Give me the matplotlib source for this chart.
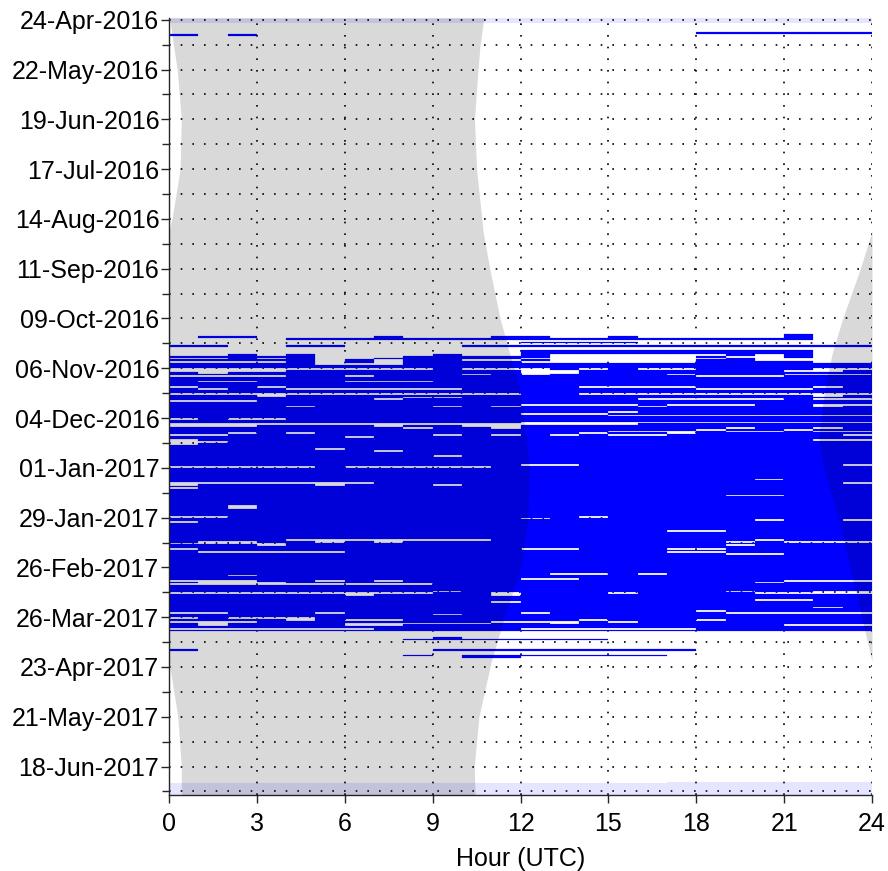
import numpy as np
import pandas as pd
import matplotlib
matplotlib.use('Agg')
import matplotlib.pyplot as plt
import matplotlib.dates as mdates
from matplotlib.colors import ListedColormap

plt.rcParams['font.family'] = ['Liberation Sans', 'DejaVu Sans']

# time axis range
date_first = '2016-04-23'
date_last = '2017-07-04'

# period with (nearly) continuous hourly files, inclusive
block_start = '2016-11-05'
block_end = '2017-04-02'

# missing hours inside the continuous period: (day, first hour, end hour)
gaps = [
    ('2016-11-06', 0, 9), ('2016-11-06', 10, 13), ('2016-11-06', 14, 15), ('2016-11-06', 16, 18), ('2016-11-06', 22, 24),
    ('2016-11-07', 0, 4), ('2016-11-07', 12, 14), ('2016-11-07', 21, 23),
    ('2016-11-08', 1, 2), ('2016-11-08', 12, 14),
    ('2016-11-09', 10, 11), ('2016-11-09', 12, 13), ('2016-11-09', 17, 18), ('2016-11-09', 21, 24),
    ('2016-11-10', 0, 4), ('2016-11-10', 6, 7), ('2016-11-10', 18, 21),
    ('2016-11-13', 1, 3), ('2016-11-13', 6, 9),
    ('2016-11-16', 0, 1), ('2016-11-16', 3, 4), ('2016-11-16', 14, 18), ('2016-11-16', 22, 23),
    ('2016-11-17', 1, 2), ('2016-11-17', 4, 10), ('2016-11-17', 18, 22),
    ('2016-11-20', 0, 12), ('2016-11-20', 14, 24),
    ('2016-11-21', 3, 4), ('2016-11-21', 22, 23),
    ('2016-11-22', 8, 10),
    ('2016-11-23', 7, 8), ('2016-11-23', 16, 21), ('2016-11-23', 22, 24),
    ('2016-11-24', 0, 3),
    ('2016-11-26', 12, 16), ('2016-11-26', 17, 20), ('2016-11-26', 22, 24),
    ('2016-11-27', 4, 5), ('2016-11-27', 9, 10), ('2016-11-27', 11, 12), ('2016-11-27', 16, 17), ('2016-11-27', 22, 23),
    ('2016-11-30', 15, 16),
    ('2016-12-01', 12, 15),
    ('2016-12-02', 15, 24),
    ('2016-12-04', 0, 1), ('2016-12-04', 2, 4),
    ('2016-12-06', 12, 24),
    ('2016-12-07', 0, 16),
    ('2016-12-08', 0, 3), ('2016-12-08', 7, 8), ('2016-12-08', 10, 12),
    ('2016-12-09', 8, 9), ('2016-12-09', 11, 12), ('2016-12-09', 19, 20), ('2016-12-09', 22, 23),
    ('2016-12-10', 18, 19), ('2016-12-10', 21, 22),
    ('2016-12-11', 15, 18), ('2016-12-11', 19, 21), ('2016-12-11', 22, 24),
    ('2016-12-12', 2, 3), ('2016-12-12', 4, 5), ('2016-12-12', 14, 15), ('2016-12-12', 17, 18),
    ('2016-12-13', 0, 2), ('2016-12-13', 9, 10), ('2016-12-13', 11, 12), ('2016-12-13', 13, 14), ('2016-12-13', 15, 17), ('2016-12-13', 23, 24),
    ('2016-12-14', 6, 7),
    ('2016-12-16', 0, 1), ('2016-12-16', 22, 24),
    ('2016-12-17', 0, 2),
    ('2016-12-18', 0, 1),
    ('2016-12-21', 5, 6),
    ('2016-12-22', 7, 8),
    ('2016-12-25', 9, 10),
    ('2016-12-30', 12, 14), ('2016-12-30', 23, 24),
    ('2016-12-31', 0, 5), ('2016-12-31', 6, 11),
    ('2017-01-07', 20, 21),
    ('2017-01-09', 0, 7), ('2017-01-09', 23, 24),
    ('2017-01-10', 0, 1), ('2017-01-10', 5, 6), ('2017-01-10', 9, 10),
    ('2017-01-12', 0, 1),
    ('2017-01-16', 19, 21),
    ('2017-01-22', 2, 3), ('2017-01-23', 2, 3),
    ('2017-01-28', 0, 2), ('2017-01-28', 14, 15),
    ('2017-01-29', 12, 13),
    ('2017-01-30', 20, 21), ('2017-01-30', 23, 24),
    ('2017-01-31', 0, 1),
    ('2017-02-05', 17, 19),
    ('2017-02-10', 4, 11), ('2017-02-10', 20, 21),
    ('2017-02-11', 1, 3), ('2017-02-11', 5, 6), ('2017-02-11', 7, 8), ('2017-02-11', 19, 20), ('2017-02-11', 21, 24),
    ('2017-02-12', 0, 4),
    ('2017-02-13', 3, 4), ('2017-02-13', 19, 20),
    ('2017-02-15', 0, 1), ('2017-02-15', 12, 14), ('2017-02-15', 17, 19),
    ('2017-02-17', 1, 6), ('2017-02-17', 17, 19),
    ('2017-02-18', 19, 21),
    ('2017-03-01', 13, 15), ('2017-03-01', 16, 17),
    ('2017-03-02', 2, 3),
    ('2017-03-04', 12, 14),
    ('2017-03-05', 0, 3), ('2017-03-05', 5, 6), ('2017-03-05', 7, 8), ('2017-03-05', 21, 24),
    ('2017-03-06', 1, 4), ('2017-03-06', 20, 21),
    ('2017-03-07', 0, 9),
    ('2017-03-11', 9, 10), ('2017-03-11', 19, 20), ('2017-03-11', 22, 24),
    ('2017-03-12', 0, 9), ('2017-03-12', 11, 12), ('2017-03-12', 15, 16), ('2017-03-12', 20, 24),
    ('2017-03-13', 6, 7), ('2017-03-13', 11, 12),
    ('2017-03-16', 20, 22),
    ('2017-03-17', 11, 12),
    ('2017-03-20', 22, 23),
    ('2017-03-22', 18, 19),
    ('2017-03-23', 0, 2), ('2017-03-23', 5, 6), ('2017-03-23', 12, 13), ('2017-03-23', 19, 24),
    ('2017-03-24', 9, 10),
    ('2017-03-26', 0, 1), ('2017-03-26', 2, 5),
    ('2017-03-27', 4, 5), ('2017-03-27', 6, 8), ('2017-03-27', 14, 15), ('2017-03-27', 18, 19),
    ('2017-03-28', 0, 3), ('2017-03-28', 11, 14), ('2017-03-28', 15, 16),
    ('2017-03-29', 1, 2), ('2017-03-29', 6, 11), ('2017-03-29', 13, 14),
    ('2017-03-30', 1, 2), ('2017-03-30', 6, 8), ('2017-03-30', 21, 24),
    ('2017-04-01', 0, 7), ('2017-04-01', 12, 18),
]

# hours with files outside the continuous period: (day, first hour, end hour)
bars = [
    ('2016-05-01', 18, 24),
    ('2016-05-02', 0, 1), ('2016-05-02', 2, 3),
    ('2016-10-18', 21, 22),
    ('2016-10-19', 1, 3), ('2016-10-19', 7, 8), ('2016-10-19', 11, 13), ('2016-10-19', 15, 16), ('2016-10-19', 21, 22),
    ('2016-10-20', 4, 22),
    ('2016-10-22', 12, 16),
    ('2016-10-24', 0, 2), ('2016-10-24', 4, 6), ('2016-10-24', 10, 24),
    ('2016-10-27', 12, 22),
    ('2016-10-28', 12, 22),
    ('2016-10-29', 2, 3), ('2016-10-29', 4, 5), ('2016-10-29', 9, 10), ('2016-10-29', 12, 13), ('2016-10-29', 19, 20), ('2016-10-29', 21, 22),
    ('2016-10-30', 0, 5), ('2016-10-30', 8, 13), ('2016-10-30', 18, 19), ('2016-10-30', 21, 22),
    ('2016-10-31', 2, 3), ('2016-10-31', 4, 5), ('2016-10-31', 7, 12), ('2016-10-31', 19, 20),
    ('2016-11-01', 0, 5), ('2016-11-01', 6, 7), ('2016-11-01', 8, 10), ('2016-11-01', 12, 13), ('2016-11-01', 18, 20),
    ('2016-11-02', 4, 5), ('2016-11-02', 6, 7), ('2016-11-02', 8, 12), ('2016-11-02', 18, 22),
    ('2016-11-03', 0, 5), ('2016-11-03', 8, 24),
    ('2016-11-04', 0, 24),
    ('2017-04-06', 9, 10),
    ('2017-04-07', 8, 15),
    ('2017-04-13', 0, 1), ('2017-04-13', 9, 18),
    ('2017-04-16', 8, 9), ('2017-04-16', 10, 17),
    ('2017-04-17', 10, 12),
]

# faint coverage at both ends of the record: (first day, end day, first hour, end hour)
faint = [
    ('2016-04-23', '2016-04-26', 0, 24),
    ('2017-06-27', '2017-07-04', 0, 17),
    ('2017-06-26 12:00', '2017-07-04', 17, 24),
]

# sunrise / sunset in UTC hours (sunset > 24 means after midnight)
sun_dates = ['2016-04-23', '2016-05-08', '2016-05-22', '2016-06-19', '2016-07-17', '2016-08-14',
             '2016-08-21', '2016-09-11', '2016-10-09', '2016-10-28', '2016-11-16', '2016-12-15',
             '2017-01-01', '2017-01-29', '2017-02-26', '2017-03-26', '2017-04-20', '2017-05-21',
             '2017-06-18', '2017-07-04']
sunrise = [10.75, 10.62, 10.55, 10.43, 10.5, 10.68,
           10.72, 10.95, 11.3, 11.62, 11.95, 12.2,
           12.3, 12.25, 12.02, 11.45, 11.0, 10.58,
           10.42, 10.45]
sunset = [24.02, 24.15, 24.28, 24.42, 24.38, 24.1,
          24.0, 23.6, 23.0, 22.65, 22.4, 22.18,
          22.35, 22.85, 23.25, 23.65, 24.0, 24.3,
          24.42, 24.42]


def dnum(d):
    return mdates.date2num(pd.Timestamp(d))


days = pd.date_range(date_first, date_last, freq='D')
cover = np.zeros((len(days), 24), dtype=bool)


def row(d):
    return (pd.Timestamp(d) - days[0]).days


cover[row(block_start):row(block_end) + 1, :] = True
for d, h0, h1 in gaps:
    cover[row(d), h0:h1] = False
for d, h0, h1 in bars:
    cover[row(d), h0:h1] = True

fig = plt.figure(figsize=(8.88, 8.71), dpi=100)
ax = fig.add_axes([169 / 888, 1 - 795 / 871, 703 / 888, 777 / 871])

day_edges = mdates.date2num(pd.date_range(date_first, periods=len(days) + 1, freq='D'))
hour_edges = np.arange(25)
data = np.ma.masked_where(~cover, np.ones(cover.shape))
ax.pcolormesh(hour_edges, day_edges, data, cmap=ListedColormap(['#0000ff']),
              edgecolors='face', linewidth=0.15, antialiased=True, zorder=2)

for d0, d1, h0, h1 in faint:
    ax.broken_barh([(h0, h1 - h0)], (dnum(d0), dnum(d1) - dnum(d0)),
                   facecolor='#0000ff', alpha=0.1, edgecolor='none', zorder=2)

# night shading on top of the coverage
sd = mdates.date2num(pd.to_datetime(sun_dates))
rise = np.array(sunrise)
sset = np.array(sunset)
ax.fill_betweenx(sd, np.clip(sset - 24, 0, None), rise, color='k', alpha=0.15, lw=0, zorder=3)
ax.fill_betweenx(sd, np.minimum(sset, 24), 24, color='k', alpha=0.15, lw=0, zorder=3)

ax.set_xlim(0, 24)
ax.set_ylim(dnum(date_last), dnum(date_first))
ax.set_xticks(range(0, 25, 3))

major = mdates.date2num(pd.date_range('2016-04-24', date_last, freq='28D'))
minor = mdates.date2num(pd.date_range('2016-04-24', date_last, freq='14D'))
ax.yaxis.set_major_locator(matplotlib.ticker.FixedLocator(major))
ax.yaxis.set_minor_locator(matplotlib.ticker.FixedLocator(minor))
ax.yaxis.set_major_formatter(mdates.DateFormatter('%d-%b-%Y'))

ax.set_axisbelow(True)
ax.grid(axis='x', which='major', color='k', linestyle=(0, (1, 6)), lw=1.2)
ax.grid(axis='y', which='both', color='k', linestyle=(0, (1, 6)), lw=1.2)

for s in ('top', 'right'):
    ax.spines[s].set_visible(False)
for s in ('left', 'bottom'):
    ax.spines[s].set_color('#262626')
    ax.spines[s].set_linewidth(1)

ax.tick_params(which='both', direction='out', top=False, right=False, width=1, color='#262626')
ax.tick_params(which='major', length=6, labelsize=18)
ax.tick_params(axis='y', which='major', pad=1)
ax.tick_params(axis='x', which='major', pad=6)
ax.tick_params(which='minor', length=5)

ax.set_xlabel('Hour (UTC)', fontsize=18, labelpad=8)

fig.savefig('out.png', dpi=100)
